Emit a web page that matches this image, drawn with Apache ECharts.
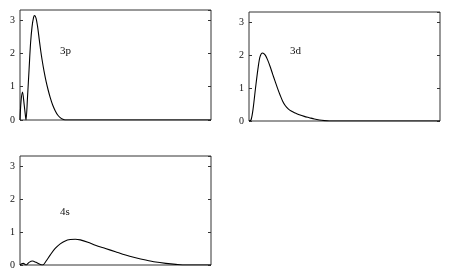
<!DOCTYPE html>
<html>
<head>
<meta charset="utf-8">
<script src="https://cdn.jsdelivr.net/npm/echarts@6/dist/echarts.min.js"></script>
<style>
html,body{margin:0;padding:0;background:#fff;}
#c{width:450px;height:274px;}
</style>
</head>
<body>
<div id="c"></div>
<script>
// Panel labels
const panelLabels = ["3p", "3d", "4s"];
// Y tick values
const yTicks = [0, 1, 2, 3];
// 3p radial curve
const x3p = [0, 0.1, 0.25, 0.4, 0.55, 0.6, 0.75, 0.9, 1.05, 1.2, 1.35, 1.45, 1.6, 1.75, 1.9, 2.05, 2.2, 2.4, 2.6, 2.8, 3.0, 3.25, 3.5, 3.75, 4.0, 4.2, 4.5, 19];
const y3p = [0, 0.55, 0.84, 0.5, 0.1, 0, 0.7, 1.5, 2.3, 2.8, 3.08, 3.13, 3.05, 2.8, 2.45, 2.1, 1.8, 1.45, 1.15, 0.9, 0.68, 0.45, 0.28, 0.15, 0.07, 0.03, 0, 0];
// 3d radial curve
const x3d = [0, 0.2, 0.4, 0.65, 0.9, 1.1, 1.35, 1.6, 1.85, 2.1, 2.35, 2.6, 2.85, 3.1, 3.35, 3.6, 3.9, 4.2, 4.6, 5.0, 5.5, 6.0, 6.5, 7.0, 7.5, 8.0, 19];
const y3d = [0, 0.03, 0.35, 1.0, 1.6, 1.95, 2.06, 2.0, 1.85, 1.65, 1.42, 1.2, 0.98, 0.78, 0.6, 0.47, 0.37, 0.3, 0.24, 0.19, 0.14, 0.1, 0.06, 0.03, 0.01, 0, 0];
// 4s radial curve
const x4s = [0, 0.17, 0.33, 0.5, 0.6, 0.9, 1.25, 1.6, 2.25, 2.6, 3.0, 3.5, 4.0, 4.5, 5.0, 5.5, 6.0, 6.75, 7.5, 8.5, 9.5, 10.5, 11.5, 12.5, 13.5, 14.5, 15.5, 16.5, 19];
const y4s = [0, 0.04, 0.05, 0.02, 0, 0.08, 0.12, 0.08, 0, 0.12, 0.3, 0.5, 0.64, 0.73, 0.77, 0.78, 0.76, 0.69, 0.6, 0.5, 0.4, 0.3, 0.22, 0.15, 0.09, 0.05, 0.02, 0, 0];

const curves = [[x3p, y3p], [x3d, y3d], [x4s, y4s]];
const grids = [
  {left: 20, top: 10, width: 191, height: 110},
  {left: 249, top: 12, width: 191, height: 109},
  {left: 20, top: 156, width: 191, height: 109}
];
const labelPos = [[60, 46], [290, 46], [60, 207]];

const font = "'Liberation Serif', 'DejaVu Serif', serif";
const option = {
  animation: false,
  backgroundColor: '#fff',
  grid: grids.map(g => Object.assign({show: true, borderColor: '#333', borderWidth: 1, backgroundColor: 'transparent'}, g)),
  xAxis: grids.map((g, i) => ({
    type: 'value', gridIndex: i, min: 0, max: 19,
    axisLine: {show: false}, axisTick: {show: false}, axisLabel: {show: false}, splitLine: {show: false}
  })),
  yAxis: [].concat(...grids.map((g, i) => [
    {
      type: 'value', gridIndex: i, min: 0, max: 3.3, interval: 1, position: 'left',
      axisLine: {show: false},
      axisTick: {show: true, inside: true, length: 3, lineStyle: {color: '#333'}},
      axisLabel: {show: true, showMaxLabel: false, margin: 5, color: '#111', fontFamily: font, fontSize: 10,
        formatter: v => (yTicks.indexOf(v) >= 0 ? String(v) : '')},
      splitLine: {show: false}
    },
    {
      type: 'value', gridIndex: i, min: 0, max: 3.3, interval: 1, position: 'right',
      axisLine: {show: false},
      axisTick: {show: true, inside: true, length: 3, lineStyle: {color: '#333'}},
      axisLabel: {show: false},
      splitLine: {show: false}
    }
  ])),
  series: curves.map((c, i) => ({
    type: 'line', xAxisIndex: i, yAxisIndex: i * 2,
    data: c[0].map((x, k) => [x, c[1][k]]),
    smooth: 0.3, showSymbol: false, symbol: 'none',
    lineStyle: {color: '#000', width: 1.1}
  })),
  graphic: panelLabels.map((t, i) => ({
    type: 'text', left: labelPos[i][0], top: labelPos[i][1],
    style: {text: t, fill: '#111', font: '11px ' + font}
  }))
};
const chart = echarts.init(document.getElementById('c'), null, {renderer: 'canvas'});
chart.setOption(option);
</script>
</body>
</html>
